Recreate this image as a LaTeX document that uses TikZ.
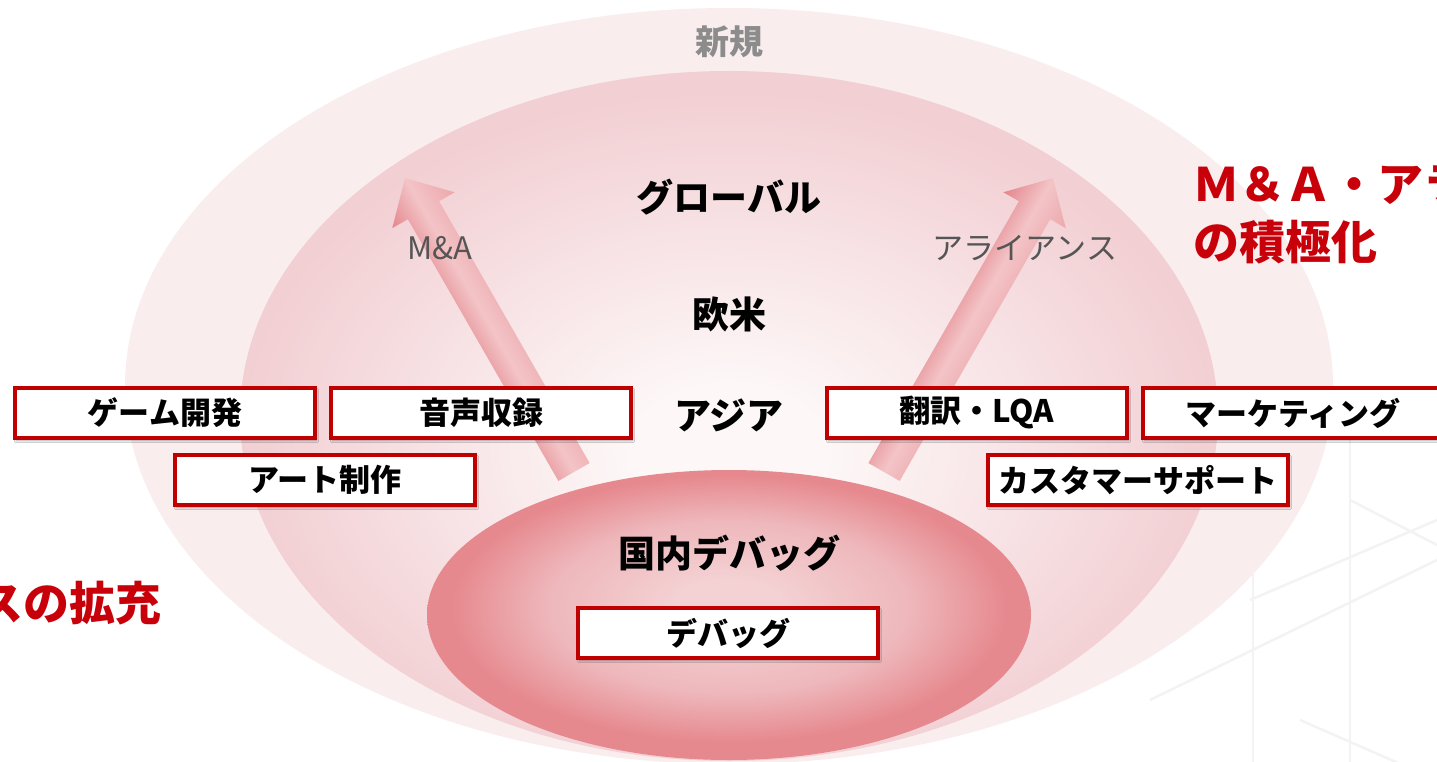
\documentclass[tikz,border=0pt]{standalone}
\usepackage{fontspec}
\setmainfont{Noto Sans CJK JP}
\usetikzlibrary{shadows.blur}
\definecolor{outerpink}{HTML}{F9EDEE}
\definecolor{midc}{HTML}{FDF7F7}
\definecolor{midm}{HTML}{F8E5E7}
\definecolor{mide}{HTML}{F2CFD3}
\definecolor{innc}{HTML}{F4D2D4}
\definecolor{innm}{HTML}{EEB7BB}
\definecolor{inne}{HTML}{E6898E}
\definecolor{arrdark}{HTML}{E3868C}
\definecolor{arrlight}{HTML}{F3C4C7}
\definecolor{arrmid}{HTML}{ECA8AC}
\definecolor{boxred}{HTML}{C00000}
\definecolor{redtext}{HTML}{C8000A}
\definecolor{newgray}{HTML}{8C8C8C}
\definecolor{lblgray}{HTML}{555555}
\definecolor{bgline}{HTML}{F3F3F3}
\pgfdeclareradialshading{midshade}{\pgfpoint{0bp}{-3bp}}{color(0bp)=(midc); color(5bp)=(midc); color(14bp)=(midm); color(25bp)=(mide); color(50bp)=(mide)}
\pgfdeclareradialshading{innshade}{\pgfpoint{0bp}{2bp}}{color(0bp)=(innc); color(4bp)=(innc); color(15bp)=(innm); color(23bp)=(inne); color(50bp)=(inne)}
\newcommand\bxfont{\bfseries\fontsize{31}{31}\selectfont}
\newcommand\lbfont{\bfseries\fontsize{37}{37}\selectfont}
\newcommand\rdfont{\bfseries\fontsize{46}{58}\selectfont}
\newcommand\gyfont{\fontsize{31}{31}\selectfont}
\begin{document}
\begin{tikzpicture}[x=1pt,y=-1pt,
  box/.style={draw=boxred, line width=3.5pt, fill=white, minimum width=300pt,
    minimum height=50pt, inner sep=0pt, font=\bxfont,
    blur shadow={shadow xshift=1.5pt, shadow yshift=-2.5pt, shadow opacity=35, shadow blur steps=6}},
  lbl/.style={font=\lbfont, text=black, inner sep=0pt},
  glbl/.style={font=\gyfont, text=lblgray, inner sep=0pt},
  redtxt/.style={font=\rdfont, text=redtext, inner sep=0pt},
  arrowshape/.style={left color=arrdark, right color=arrmid, middle color=arrlight}
]
\useasboundingbox (0,0) rectangle (1437,762);
\clip (0,0) rectangle (1437,762);
\fill[white] (0,0) rectangle (1437,762);
% faint background pattern
\begin{scope}[draw=bgline, line width=2.5pt]
  \draw (1253,480) -- (1253,762);
  \draw (1350,400) -- (1350,762);
  \draw (1150,700) -- (1437,560);
  \draw (1250,600) -- (1437,520);
  \draw (1300,720) -- (1437,780);
  \draw (1350,500) -- (1437,545);
\end{scope}
% zones
\path[fill=outerpink] (729,386) ellipse [x radius=604, y radius=378];
\shade[shading=midshade] (729,416) ellipse [x radius=489, y radius=345];
% arrows
\begin{scope}[transform canvas={shift={(574,472)},rotate=29.9}]
  \shade[arrowshape] (-18,0) -- (-18,-302) -- (-36,-302) -- (0,-339) -- (36,-302) -- (18,-302) -- (18,0) -- cycle;
\end{scope}
\begin{scope}[transform canvas={shift={(884,472)},rotate=-29.9}]
  \shade[arrowshape] (-18,0) -- (-18,-302) -- (-36,-302) -- (0,-339) -- (36,-302) -- (18,-302) -- (18,0) -- cycle;
\end{scope}
\shade[shading=innshade] (729,615) ellipse [x radius=302, y radius=145];
% labels
\node[font=\bfseries\fontsize{34}{34}\selectfont, text=newgray, inner sep=0pt] (new) at (729,42) {新規};
\node[lbl] (glob) at (729,197) {グローバル};
\node[lbl] (eu) at (729,314) {欧米};
\node[lbl] (asia) at (729,415) {アジア};
\node[lbl] (dom) at (729,553) {国内デバッグ};
\node[glbl] (ma) at (440,248) {M\&A};
\node[glbl] (alli) at (1025,248) {アライアンス};
% boxes
\node[box] (game) at (165,413) {ゲーム開発};
\node[box] (voice) at (481,413) {音声収録};
\node[box] (art) at (325,480) {アート制作};
\node[box] (lqa) at (977,413) {翻訳・LQA};
\node[box] (mkt) at (1293,413) {マーケティング};
\node[box] (cs) at (1138,480) {カスタマーサポート};
\node[box] (debug) at (728,633) {デバッグ};
% red messages
\node[redtxt, anchor=west, align=left] (rt) at (1193,214) {Ｍ＆Ａ・アライアンス\\の積極化};
\node[redtxt, anchor=east] (lt) at (162,603) {サービスの拡充};
\end{tikzpicture}
\end{document}
